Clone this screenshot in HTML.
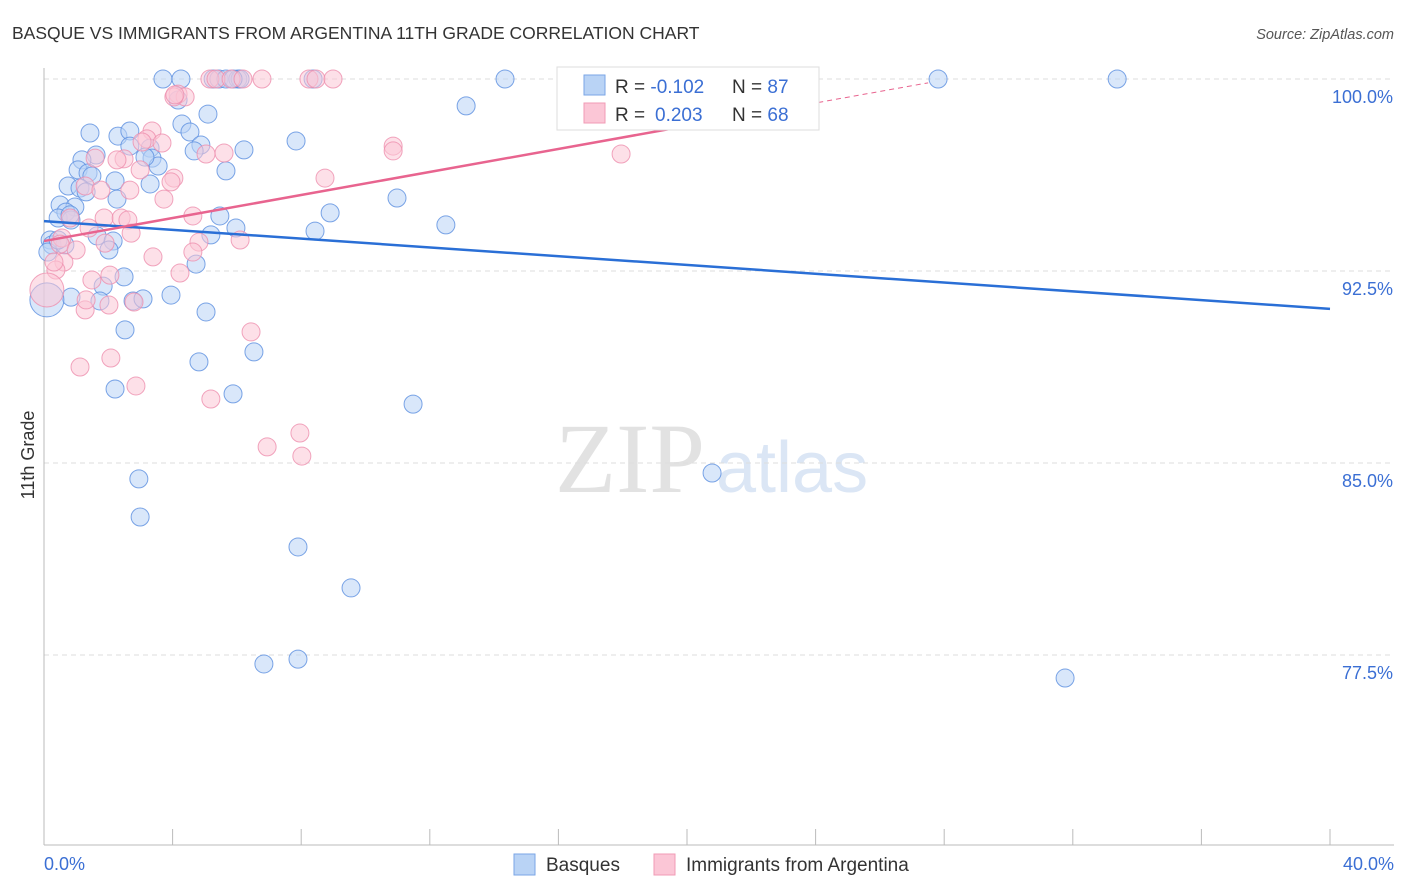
<!DOCTYPE html>
<html><head><meta charset="utf-8"><style>
body{margin:0;background:#fff;font-family:"Liberation Sans",sans-serif}
svg{display:block}
</style></head><body>
<svg id="chart" width="1406" height="892">
<text x="12" y="39" font-size="17.5" fill="#333">BASQUE VS IMMIGRANTS FROM ARGENTINA 11TH GRADE CORRELATION CHART</text>
<text x="1394" y="39" font-size="14.5" fill="#555" font-style="italic" text-anchor="end">Source: ZipAtlas.com</text>
<text x="555" y="492" font-size="100" fill="#e2e2e2" font-family="Liberation Serif,serif">ZIP</text>
<text x="716" y="492" font-size="72" fill="#dbe6f5">atlas</text>
<g id="grid"></g>
<line x1="44" y1="68" x2="44" y2="845" stroke="#bbb"/>
<line x1="44" y1="845" x2="1394" y2="845" stroke="#bbb"/>
<text x="34" y="455" font-size="18" fill="#333" transform="rotate(-90 34 455)" text-anchor="middle">11th Grade</text>
<text x="44" y="870" font-size="18" fill="#3b6fd4">0.0%</text>
<text x="1394" y="870" font-size="18" fill="#3b6fd4" text-anchor="end">40.0%</text>
<g id="points"></g>
<g id="lines"></g>
<g>
<rect x="557" y="67" width="262" height="63" fill="#fff" stroke="#ddd"/>
<rect x="584" y="75" width="21" height="20" fill="#b9d3f5" stroke="#7aa6e6"/>
<rect x="584" y="103" width="21" height="20" fill="#fbc6d6" stroke="#f09bb5"/>
<text x="615" y="93" font-size="19" fill="#333">R = <tspan fill="#3b6fd4">-0.102</tspan><tspan x="732">N = </tspan><tspan fill="#3b6fd4">87</tspan></text>
<text x="615" y="121" font-size="19" fill="#333">R = <tspan x="655" fill="#3b6fd4">0.203</tspan><tspan x="732">N = </tspan><tspan fill="#3b6fd4">68</tspan></text>
</g>
<g>
<rect x="514" y="854" width="21" height="21" fill="#b9d3f5" stroke="#7aa6e6"/>
<text x="546" y="871" font-size="19" fill="#333">Basques</text>
<rect x="654" y="854" width="21" height="21" fill="#fbc6d6" stroke="#f09bb5"/>
<text x="686" y="871" font-size="19" fill="#333">Immigrants from Argentina</text>
</g>
</svg>
<script>
const yTicks=[100,92.5,85,77.5];
const yTickLabels=["100.0%","92.5%","85.0%","77.5%"];
const xTicks=[0,4,8,12,16,20,24,28,32,36,40];
const blueX=[3.70,4.26,5.26,5.44,5.66,6.03,6.10,8.37,14.34,27.81,33.38,4.17,5.10,13.13,4.29,1.43,2.30,2.67,4.54,7.84,4.88,2.67,3.30,4.67,6.22,1.62,3.36,1.18,3.55,5.66,1.06,1.37,1.49,2.21,0.75,1.12,1.31,3.30,2.27,10.98,0.50,0.96,0.68,0.44,5.47,8.90,12.50,0.84,5.97,8.43,5.19,0.19,1.65,2.15,0.25,2.02,0.12,4.73,2.49,1.84,0.84,1.74,2.77,3.08,3.95,5.04,2.52,6.53,4.82,2.21,5.88,11.48,20.78,2.95,2.99,7.90,9.55,6.84,7.90,31.76,0.09,0.65,0.44,3.14,0.81,5.88];
const blueY=[100,100,100,100,100,100,100,100,100,100,100,99.18,98.63,98.95,98.24,97.89,97.77,97.97,97.93,97.58,97.42,97.38,97.30,97.19,97.23,97.03,96.91,96.84,96.60,96.41,96.45,96.33,96.21,96.02,95.82,95.74,95.59,95.90,95.31,95.35,95.08,95.00,94.80,94.57,94.65,94.77,94.30,94.49,94.18,94.06,93.91,93.71,93.87,93.67,93.52,93.32,93.24,92.77,92.27,91.91,91.48,91.33,91.33,91.41,91.56,90.90,90.20,89.34,88.95,87.89,87.70,87.30,84.61,84.38,82.89,81.72,80.12,77.15,77.34,76.60,91.37,93.52,93.71,96.95,94.69,100];
const pinkX=[5.16,5.35,5.82,6.19,6.78,8.24,8.46,8.99,4.17,4.39,4.04,3.36,3.20,3.67,2.49,2.27,5.04,5.60,4.04,3.95,2.67,1.28,1.77,3.73,8.74,10.86,10.86,17.95,2.99,1.59,1.87,2.40,2.61,4.63,2.71,1.40,0.56,0.50,1.00,3.39,6.10,4.82,0.62,0.37,1.49,4.23,4.63,2.02,2.80,1.28,0.09,6.44,2.08,1.12,2.86,5.19,6.94,7.96,8.02,0.31,0.81,1.90,3.05,4.07,2.05,1.31];
const pinkY=[100,100,100,100,100,100,100,100,99.41,99.30,99.30,97.97,97.66,97.50,96.88,96.84,97.07,97.11,96.13,95.98,95.66,95.82,95.66,95.31,96.13,97.38,97.19,97.07,96.45,96.91,94.57,94.57,94.49,94.65,93.98,94.18,93.79,93.55,93.32,93.05,93.71,93.63,92.85,92.54,92.15,92.42,93.24,91.17,91.29,90.98,91.76,90.12,89.10,88.75,88.01,87.50,85.63,86.17,85.27,92.85,94.57,93.59,97.54,99.38,92.34,91.37];
const blueTrend=[0,94.45,40,91.02];
const pinkTrend=[0,93.67,20.5,98.28,27.5,99.85];
const NS="http://www.w3.org/2000/svg";
const X=v=>44+v*32.15, Y=v=>79+(100-v)*25.6;
function mk(t,a,p){const e=document.createElementNS(NS,t);for(const k in a)e.setAttribute(k,a[k]);p.appendChild(e);return e;}
const grid=document.getElementById('grid');
yTicks.forEach((t,i)=>{
 const l=mk('line',{x1:44,x2:1394,y1:Y(t),y2:Y(t),stroke:'#ddd','stroke-dasharray':'5,4'},grid);
 
 
 const tx=mk('text',{x:1393,y:Y(t)+24,'font-size':18,fill:'#3b6fd4','text-anchor':'end'},grid);
 tx.textContent=yTickLabels[i];
 
 
});
xTicks.forEach(t=>{
 const l=mk('line',{x1:X(t),x2:X(t),y1:829,y2:845,stroke:'#bbb'},grid);
 
 
});
const pts=document.getElementById('points');
function series(xs,ys,fill,stroke,name){
 xs.forEach((x,i)=>{
  const big=(x<0.15&&ys[i]<92&&ys[i]>91);
  const c=mk('circle',{cx:X(x),cy:Y(ys[i]),r:big?17:9,fill:fill,'fill-opacity':0.55,stroke:stroke,'stroke-opacity':0.8,'stroke-width':1},pts);
  
  
 });
}
series(blueX,blueY,'#b9d3f5','#5b8fe0','basques-point');
series(pinkX,pinkY,'#fbc6d6','#ee8fae','argentina-point');
const lines=document.getElementById('lines');
const bl=mk('line',{x1:X(blueTrend[0]),y1:Y(blueTrend[1]),x2:X(blueTrend[2]),y2:Y(blueTrend[3]),stroke:'#2a6fd6','stroke-width':2.5},lines);


const pl=mk('line',{x1:X(pinkTrend[0]),y1:Y(pinkTrend[1]),x2:X(pinkTrend[2]),y2:Y(pinkTrend[3]),stroke:'#e8648f','stroke-width':2.5},lines);


const pd=mk('line',{x1:X(pinkTrend[2]),y1:Y(pinkTrend[3]),x2:X(pinkTrend[4]),y2:Y(pinkTrend[5]),stroke:'#e8648f','stroke-width':1,'stroke-dasharray':'5,4'},lines);


</script>
</body></html>
